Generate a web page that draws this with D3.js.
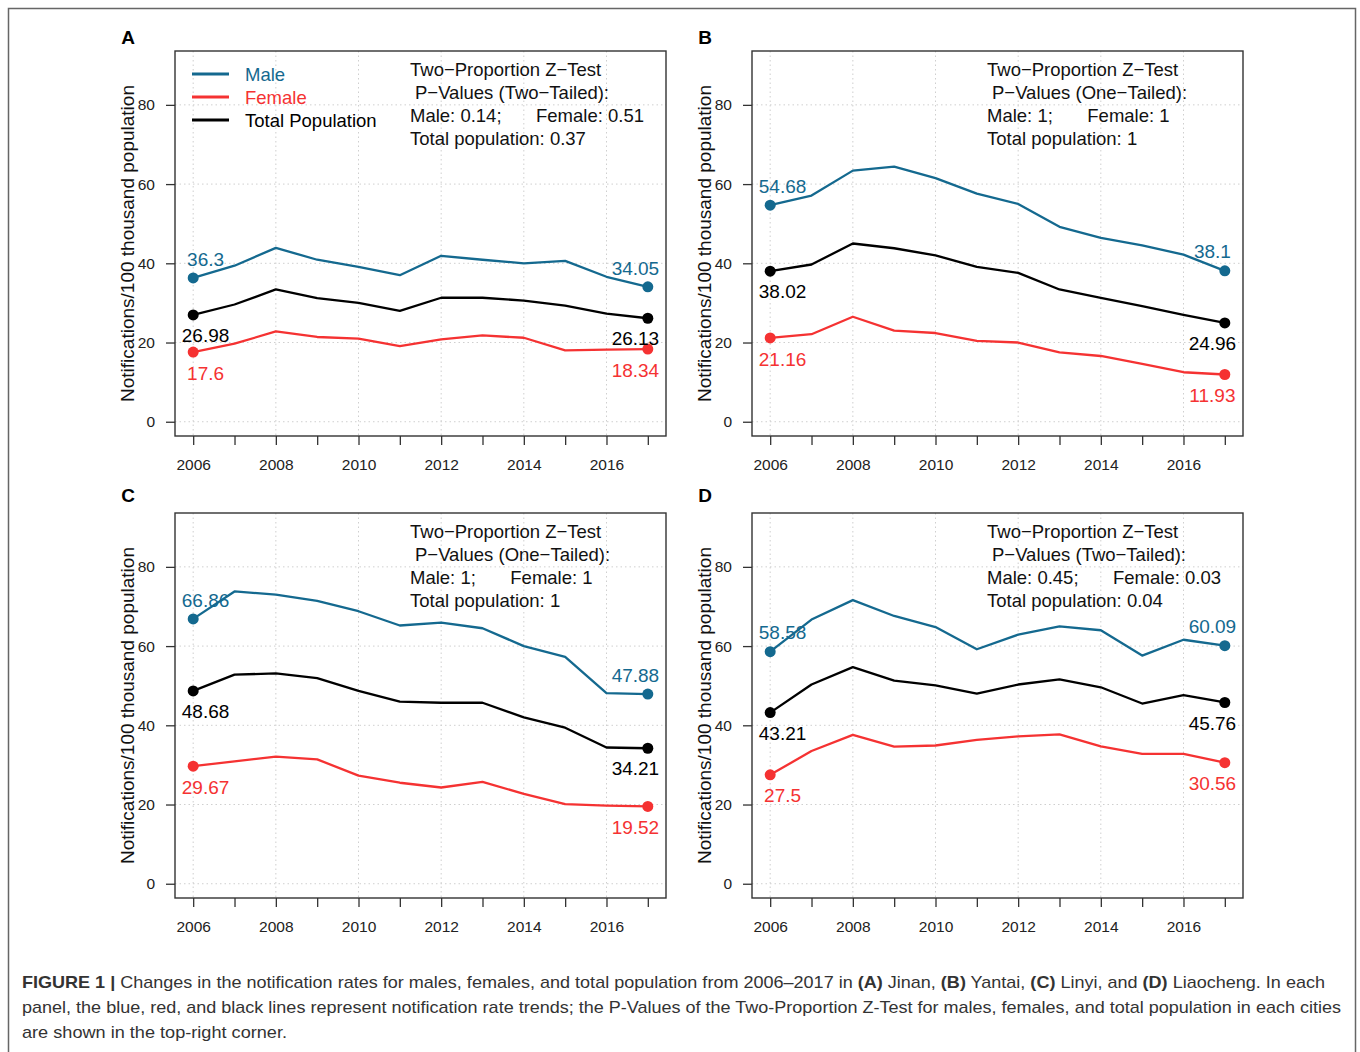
<!DOCTYPE html>
<html>
<head>
<meta charset="utf-8">
<script src="https://cdn.jsdelivr.net/npm/d3@7/dist/d3.min.js"></script>
<style>
  body { margin: 0; background: #fff; }
  text { font-family: "Liberation Sans", Arial, Helvetica, sans-serif; }
</style>
</head>
<body>
<div id="chart"></div>
<script>
// years on the x axis
var years = [2006, 2007, 2008, 2009, 2010, 2011, 2012, 2013, 2014, 2015, 2016, 2017];
var yearLabels = [2006, 2008, 2010, 2012, 2014, 2016];
var yTicks = [0, 20, 40, 60, 80];

// A - Jinan
var maleA   = [36.3, 39.4, 43.9, 40.9, 39.1, 37.0, 41.9, 40.9, 40.0, 40.6, 36.6, 34.05];
var totalA  = [26.98, 29.6, 33.4, 31.2, 30.0, 28.0, 31.3, 31.3, 30.6, 29.3, 27.3, 26.13];
var femaleA = [17.6, 19.7, 22.8, 21.4, 21.0, 19.1, 20.8, 21.8, 21.2, 18.0, 18.2, 18.34];
// B - Yantai
var maleB   = [54.68, 57.1, 63.4, 64.4, 61.5, 57.6, 55.0, 49.2, 46.4, 44.5, 42.2, 38.1];
var totalB  = [38.02, 39.7, 45.0, 43.8, 42.0, 39.1, 37.6, 33.4, 31.3, 29.2, 27.0, 24.96];
var femaleB = [21.16, 22.1, 26.5, 23.0, 22.4, 20.4, 20.0, 17.5, 16.6, 14.6, 12.5, 11.93];
// C - Linyi
var maleC   = [66.86, 73.8, 73.0, 71.4, 68.8, 65.2, 65.9, 64.5, 60.0, 57.3, 48.1, 47.88];
var totalC  = [48.68, 52.8, 53.1, 51.9, 48.7, 46.0, 45.7, 45.7, 42.0, 39.4, 34.4, 34.21];
var femaleC = [29.67, 30.9, 32.1, 31.4, 27.3, 25.5, 24.3, 25.7, 22.7, 20.1, 19.7, 19.52];
// D - Liaocheng
var maleD   = [58.58, 66.7, 71.6, 67.6, 64.8, 59.2, 62.9, 65.0, 64.0, 57.6, 61.6, 60.09];
var totalD  = [43.21, 50.3, 54.7, 51.3, 50.1, 48.0, 50.3, 51.6, 49.6, 45.5, 47.6, 45.76];
var femaleD = [27.5, 33.5, 37.6, 34.6, 34.9, 36.3, 37.2, 37.7, 34.7, 32.8, 32.8, 30.56];

var letters = ["A", "B", "C", "D"];
var tails = ["Two", "One", "One", "Two"];
var pMale = ["0.14", "1", "1", "0.45"];
var pFemale = ["0.51", "1", "1", "0.03"];
var pTotal = ["0.37", "1", "1", "0.04"];

var legendNames = ["Male", "Female", "Total Population"];

var BLUE = "#14698f", RED = "#f53232", BLACK = "#000";

var W = 1360, H = 1052;
var svg = d3.select("#chart").append("svg")
    .attr("width", W)
    .attr("height", H);

// figure frame
svg.append("rect")
    .attr("x", 8.5).attr("y", 8.5)
    .attr("width", 1347).attr("height", 1100)
    .attr("fill", "none")
    .attr("stroke", "#666")
    .attr("stroke-width", 1.5);

var panels = [
    { left: 175, top: 51, letterY: -14, male: maleA, total: totalA, female: femaleA },
    { left: 752, top: 51, letterY: -14, male: maleB, total: totalB, female: femaleB },
    { left: 175, top: 513, letterY: -18, male: maleC, total: totalC, female: femaleC },
    { left: 752, top: 513, letterY: -18, male: maleD, total: totalD, female: femaleD }
];
var PW = 491, PH = 385;

panels.forEach(function (p, i) {
    var g = svg.append("g").attr("transform", "translate(" + p.left + "," + p.top + ")");

    // R style: 4% padding beyond the data range
    var x = d3.scaleLinear().domain([2006 - 0.44, 2017 + 0.44]).range([0, PW]);
    var y = d3.scaleLinear().domain([-3.6, 93.6]).range([PH, 0]);

    // dotted grid
    g.selectAll(".vgrid").data(yearLabels).enter().append("line")
        .attr("x1", function (d) { return x(d); })
        .attr("x2", function (d) { return x(d); })
        .attr("y1", 0).attr("y2", PH)
        .attr("stroke", "#cfcfcf")
        .attr("stroke-dasharray", "1.5,3");
    g.selectAll(".hgrid").data(yTicks).enter().append("line")
        .attr("y1", function (d) { return y(d); })
        .attr("y2", function (d) { return y(d); })
        .attr("x1", 0).attr("x2", PW)
        .attr("stroke", "#cfcfcf")
        .attr("stroke-dasharray", "1.5,3");

    // axes
    var xAxis = d3.axisBottom(x).tickValues(years).tickSize(9).tickSizeOuter(0)
        .tickFormat(function (d) { return yearLabels.indexOf(d) >= 0 ? d : ""; });
    var gx = g.append("g").attr("transform", "translate(0," + PH + ")").call(xAxis);
    gx.select(".domain").remove();
    gx.selectAll("line").attr("stroke", "#333").attr("stroke-width", 1.3);
    gx.selectAll("text")
        .attr("font-size", 15.5)
        .attr("fill", "#222")
        .attr("y", 29).attr("dy", "0.35em")
        .style("font-family", "'Liberation Sans', Arial, sans-serif");

    var yAxis = d3.axisLeft(y).tickValues(yTicks).tickSize(9).tickSizeOuter(0).tickPadding(11);
    var gy = g.append("g").call(yAxis);
    gy.select(".domain").remove();
    gy.selectAll("line").attr("stroke", "#333").attr("stroke-width", 1.3);
    gy.selectAll("text")
        .attr("font-size", 15.5)
        .attr("fill", "#222")
        .style("font-family", "'Liberation Sans', Arial, sans-serif");

    // box
    g.append("rect")
        .attr("width", PW).attr("height", PH)
        .attr("fill", "none")
        .attr("stroke", "#333")
        .attr("stroke-width", 1.4);

    // y axis title
    g.append("text")
        .attr("transform", "translate(-48," + (PH / 2) + ") rotate(-90)")
        .attr("text-anchor", "middle")
        .attr("dy", "0.35em")
        .attr("font-size", 19)
        .attr("fill", "#111")
        .text("Notifications/100 thousand population");

    // panel letter
    g.append("text")
        .attr("x", -47).attr("y", p.letterY)
        .attr("dy", "0.35em")
        .attr("text-anchor", "middle")
        .attr("font-size", 19)
        .attr("font-weight", "bold")
        .text(letters[i]);

    var line = d3.line()
        .x(function (d, j) { return x(years[j]); })
        .y(function (d) { return y(d); });

    var series = [
        { v: p.male, c: BLUE, off: -19 },
        { v: p.female, c: RED, off: 21 },
        { v: p.total, c: BLACK, off: 20.5 }
    ];

    series.forEach(function (s) {
        g.append("path")
            .attr("d", line(s.v))
            .attr("fill", "none")
            .attr("stroke", s.c)
            .attr("stroke-width", 2.3)
            .attr("stroke-linejoin", "round");

        var ends = [0, years.length - 1];
        ends.forEach(function (j) {
            g.append("circle")
                .attr("cx", x(years[j]))
                .attr("cy", y(s.v[j]))
                .attr("r", 5.5)
                .attr("fill", s.c);
            g.append("text")
                .attr("x", x(years[j] + (j === 0 ? 0.3 : -0.3)))
                .attr("y", y(s.v[j]) + s.off)
                .attr("dy", "0.35em")
                .attr("text-anchor", "middle")
                .attr("font-size", 19)
                .attr("fill", s.c)
                .text(s.v[j]);
        });
    });

    // legend only in panel A
    if (i === 0) {
        var legColors = [BLUE, RED, BLACK];
        legendNames.forEach(function (name, k) {
            var ly = 23 + k * 23;
            g.append("line")
                .attr("x1", 17).attr("x2", 54)
                .attr("y1", ly).attr("y2", ly)
                .attr("stroke", legColors[k])
                .attr("stroke-width", 3);
            g.append("text")
                .attr("x", 70).attr("y", ly + 1)
                .attr("dy", "0.35em")
                .attr("font-size", 18.5)
                .attr("fill", legColors[k])
                .text(name);
        });
    }

    // p-value annotation
    var ax = 235;
    var ann = g.append("g").attr("font-size", 18.5).attr("fill", "#111");
    ann.append("text").attr("x", ax).attr("y", 19).attr("dy", "0.35em")
        .text("Two\u2212Proportion Z\u2212Test");
    ann.append("text").attr("x", ax + 5).attr("y", 42).attr("dy", "0.35em")
        .text("P\u2212Values (" + tails[i] + "\u2212Tailed):");
    var mt = ann.append("text").attr("x", ax).attr("y", 65).attr("dy", "0.35em")
        .text("Male: " + pMale[i] + ";");
    var mw = mt.node().getComputedTextLength();
    ann.append("text").attr("x", ax + mw + 34.5).attr("y", 65).attr("dy", "0.35em")
        .text("Female: " + pFemale[i]);
    ann.append("text").attr("x", ax).attr("y", 88).attr("dy", "0.35em")
        .text("Total population: " + pTotal[i]);
});

// caption
var capLines = [
    [["FIGURE 1 |", true], [" Changes in the notification rates for males, females, and total population from 2006\u20132017 in ", false],
     ["(A)", true], [" Jinan, ", false], ["(B)", true], [" Yantai, ", false], ["(C)", true], [" Linyi, and ", false],
     ["(D)", true], [" Liaocheng. In each", false]],
    [["panel, the blue, red, and black lines represent notification rate trends; the P-Values of the Two-Proportion Z-Test for males, females, and total population in each cities", false]],
    [["are shown in the top-right corner.", false]]
];
var capWidths = [1303, 1319, 265];
capLines.forEach(function (parts, k) {
    var t = svg.append("text")
        .attr("x", 22).attr("y", 988 + k * 25)
        .attr("font-size", 17)
        .attr("fill", "#333")
        .attr("textLength", capWidths[k])
        .attr("lengthAdjust", "spacingAndGlyphs")
        .style("white-space", "pre");
    parts.forEach(function (pt) {
        t.append("tspan")
            .attr("font-weight", pt[1] ? "bold" : "normal")
            .text(pt[0]);
    });
});
</script>
</body>
</html>
